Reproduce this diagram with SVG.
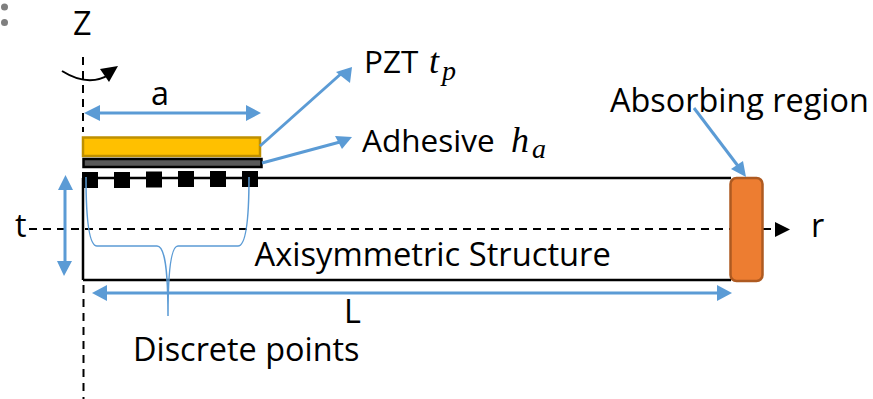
<svg xmlns="http://www.w3.org/2000/svg" width="873" height="399" viewBox="0 0 873 399">
<style>
text{font-family:"Open Sans","Noto Sans",sans-serif;font-size:32.4px;fill:#000}
.n{font-size:31.500px}
.m{font-family:"Liberation Serif",serif;font-style:italic;font-size:36px}
.s{font-size:28px}
.b{fill:none;stroke:#5b9bd5;stroke-width:3}
.t{fill:none;stroke:#5b9bd5;stroke-width:1.500}
.d{fill:none;stroke:#000;stroke-width:2;stroke-dasharray:8 6}
.dot{fill:#000}
.ah{fill:#5b9bd5}
</style>
<rect width="873" height="399" fill="#fff"/>
<g id="bullets"><circle cx="4.500" cy="7" r="3.500" fill="#7f7f7f"/><circle cx="4.500" cy="22.500" r="3.500" fill="#7f7f7f"/></g>
<g id="axes">
<path class="d" d="M83 57V132M83.500 285V399"/>
<path class="d" d="M29 229H730M763 229H771"/>
<path d="M775 222L790 229.500L775 237Z"/>
<path d="M62 71C78 81 95 84 110 74" fill="none" stroke="#000" stroke-width="2"/>
<path d="M100 69L118 66L109 82Z"/>
</g>
<g id="structure"><path d="M83 178H731M83 280H731M83 178V280" fill="none" stroke="#000" stroke-width="2.500"/></g>
<g id="pzt"><rect x="83" y="137.500" width="177" height="18.500" fill="#ffc000" stroke="#bf9000" stroke-width="2.500"/></g>
<g id="adhesive"><rect x="83.500" y="159" width="178" height="8" fill="#595959" stroke="#000" stroke-width="2.500"/></g>
<g id="points">
<rect class="dot" x="82" y="172" width="16" height="16"/><rect class="dot" x="114" y="172" width="16" height="16"/><rect class="dot" x="146" y="171.500" width="16" height="16"/><rect class="dot" x="178" y="171" width="16" height="16"/><rect class="dot" x="210" y="171" width="16" height="16"/><rect class="dot" x="242" y="171" width="16" height="16"/>
</g>
<g id="absorber"><rect x="730.500" y="178" width="32" height="103" rx="6" fill="#ed7d31" stroke="#ae5a21" stroke-width="2.500"/></g>
<g id="connectors">
<path class="b" d="M99 113H246"/>
<path class="ah" d="M84 113L100 105V121ZM261 113L246 105V121Z"/>
<path class="b" d="M65 188V262"/>
<path class="ah" d="M65.500 175L73 190H58ZM64 276L72 261H57Z"/>
<path class="b" d="M106 293H717"/>
<path class="ah" d="M92 293L107 285V301ZM732 293L717 285V301Z"/>
<path class="b" d="M260 146L343 72"/>
<path class="ah" d="M352 67L336 72L350 83Z"/>
<path class="b" d="M262 163L340 142"/>
<path class="ah" d="M352 137L335 136L342 149Z"/>
<path class="b" d="M694 108L738 166"/>
<path class="ah" d="M746 177L731 169L743 161Z"/>
<path class="t" d="M86 177C86 225 90 246 97 246H157C164 246 168 265 168 316C168 265 172 246 178 246H238C245 246 249 225 249 177"/>
</g>
<g id="labels">
<text x="73" y="35">Z</text>
<text x="151" y="105">a</text>
<text class="n" x="364" y="73">PZT</text><text class="m" x="429" y="73">t</text><text class="m s" x="442" y="80">p</text>
<text class="n" x="362" y="152">Adhesive</text><text class="m" x="511" y="152">h</text><text class="m s" x="532" y="158">a</text>
<text x="610" y="112">Absorbing region</text>
<text x="15" y="237">t</text>
<text x="811" y="237">r</text>
<text x="254.500" y="266" style="font-size:32.7px">Axisymmetric Structure</text>
<text x="344" y="323">L</text>
<text x="133" y="361">Discrete points</text>
</g>
</svg>
